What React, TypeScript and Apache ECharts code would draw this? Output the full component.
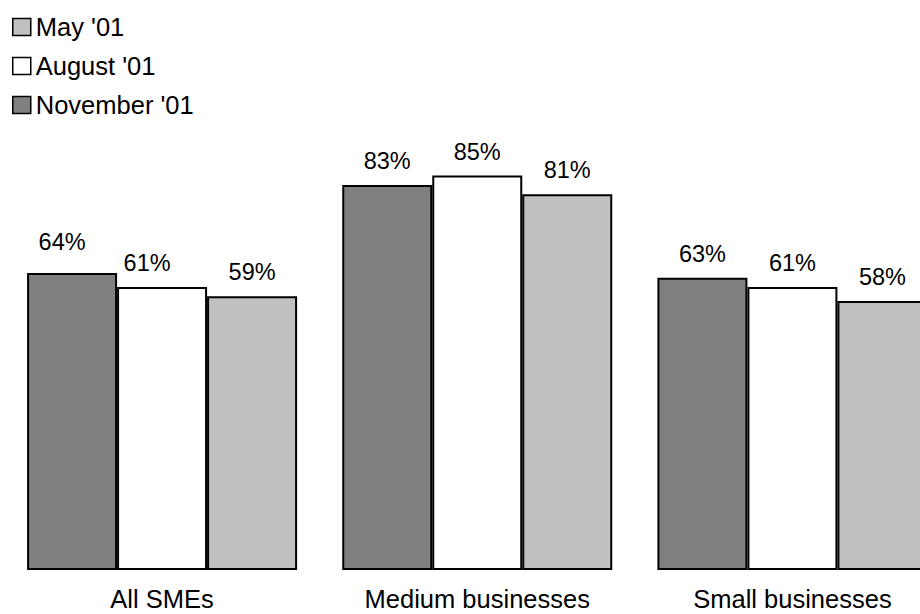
import React, { useEffect, useRef } from "react";
import * as echarts from "echarts";

const categories = ["All SMEs", "Medium businesses", "Small businesses"];
const novemberValues = [64, 83, 63];
const augustValues = [61, 85, 61];
const mayValues = [59, 81, 58];
const legendOrder = ["May '01", "August '01", "November '01"];

export default function App() {
  const ref = useRef<HTMLDivElement>(null);
  useEffect(() => {
    if (!ref.current) return;
    const chart = echarts.init(ref.current, null, { renderer: "svg" });
    const font = "'Liberation Sans', Arial, sans-serif";
    const labelBase = {
      show: true,
      position: "top" as const,
      distance: 12,
      formatter: "{c}%",
      color: "#000",
      fontSize: 23.5,
      fontFamily: font,
    };
    const mk = (name: string, values: number[], color: string, offsets?: number[][]) => ({
      name,
      type: "bar",
      barWidth: 90,
      barGap: "0%",
      itemStyle: { color, borderColor: "#000", borderWidth: 2 },
      label: labelBase,
      data: values.map((v, i) =>
        offsets && offsets[i] ? { value: v, label: { offset: offsets[i] } } : v
      ),
    });
    chart.setOption({
      animation: false,
      textStyle: { fontFamily: font },
      legend: {
        orient: "vertical",
        left: 12,
        top: 14,
        padding: 0,
        itemWidth: 18,
        itemHeight: 17,
        itemGap: 13,
        itemTextGap: 6,
        icon: "rect",
        data: legendOrder,
        itemStyle: { borderWidth: 1.5, borderColor: "#000" },
        textStyle: { fontSize: 25.5, color: "#000", fontFamily: font },
      },
      grid: { left: 4.5, right: 0, top: 106, bottom: 44 },
      xAxis: {
        type: "category",
        data: categories,
        axisLine: { show: false },
        axisTick: { show: false },
        axisLabel: {
          margin: 16,
          fontSize: 25.5,
          lineHeight: 25.5,
          color: "#000",
          fontFamily: font,
        },
      },
      yAxis: {
        type: "value",
        min: 0,
        max: 100,
        show: false,
        splitLine: { show: false },
      },
      series: [
        mk("November '01", novemberValues, "#808080", [[-10, -7]]),
        mk("August '01", augustValues, "#ffffff", [[-15, 0]]),
        mk("May '01", mayValues, "#c0c0c0"),
      ],
    });
    return () => chart.dispose();
  }, []);
  return (
    <div
      style={{
        position: "fixed",
        left: 0,
        top: 0,
        width: 920,
        height: 614,
        overflow: "hidden",
        background: "#fff",
      }}
    >
      <div ref={ref} style={{ width: 950, height: 614 }} />
    </div>
  );
}
